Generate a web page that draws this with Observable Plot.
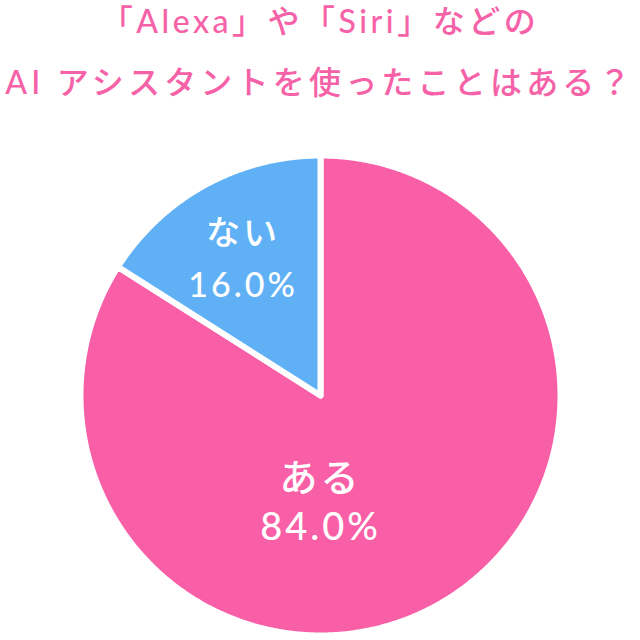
<!DOCTYPE html>
<html lang="ja">
<head>
<meta charset="utf-8">
<script src="https://cdn.jsdelivr.net/npm/d3@7"></script>
<script src="https://cdn.jsdelivr.net/npm/@observablehq/plot@0.6"></script>
<style>
  html, body { margin: 0; padding: 0; background: #fff; }
  #chart { position: relative; width: 640px; height: 640px; overflow: hidden; }
  .title {
    position: absolute; left: 0; width: 640px; text-align: center;
    font-family: Lato, "Noto Sans CJK JP", sans-serif; font-weight: 500;
    font-size: 32px; letter-spacing: 3.5px; color: #f662a8;
    height: 38px; line-height: 38px; white-space: nowrap;
  }
  #chart svg { position: absolute; left: 0; top: 0; }
  #chart svg text { letter-spacing: 3px; }
</style>
</head>
<body>
<div id="chart">
  <div class="title" style="top:2px">「Alexa」や「Siri」などの</div>
  <div class="title" style="top:63px; letter-spacing:4.2px">AI アシスタントを使ったことはある？</div>
</div>
<script>
// Survey answers and their shares (percent)
const answers = ["ある", "ない"];
const shares = [84.0, 16.0];
const colors = ["#f95fa7", "#60b0f6"];

// Slice geometry: start at 12 o'clock, run clockwise
const pie = d3.pie().sort(null).value(d => d.share)(
  answers.map((answer, i) => ({answer, share: shares[i]}))
);

// Turn each slice into a closed polygon in unit-circle coordinates
const polygons = pie.flatMap(s => {
  const pts = [{answer: s.data.answer, x: 0, y: 0}];
  const n = Math.max(2, Math.ceil((s.endAngle - s.startAngle) / (Math.PI / 360)));
  for (let k = 0; k <= n; ++k) {
    const a = s.startAngle + (s.endAngle - s.startAngle) * k / n;
    pts.push({answer: s.data.answer, x: Math.sin(a), y: Math.cos(a)});
  }
  pts.push({answer: s.data.answer, x: 0, y: 0});
  return pts;
});

// Label anchors: a majority slice gets its label near the bottom,
// smaller slices get it along their middle angle
const labels = pie.map(s => {
  const big = s.data.share > 50;
  const a = big ? Math.PI : (s.startAngle + s.endAngle) / 2;
  const r = big ? 0.433 : 0.67;
  return {
    big,
    text: s.data.answer + "\n" + s.data.share.toFixed(1) + "%",
    x: r * Math.sin(a),
    y: r * Math.cos(a)
  };
});

const chart = Plot.plot({
  width: 640,
  height: 640,
  marginLeft: 80,
  marginRight: 80,
  marginTop: 155,
  marginBottom: 5,
  x: {domain: [-1, 1], axis: null},
  y: {domain: [-1, 1], axis: null},
  color: {domain: answers, range: colors},
  style: {fontFamily: "Lato, 'Noto Sans CJK JP', sans-serif", background: "transparent"},
  marks: [
    Plot.line(polygons, {
      x: "x", y: "y", z: "answer", fill: "answer",
      stroke: "white", strokeWidth: 6, curve: "linear"
    }),
    // two-line labels: name over percentage
    Plot.text(labels, {
      filter: d => d.big,
      x: "x", y: "y", text: "text",
      fill: "white", fontSize: 38, fontWeight: 500, lineHeight: 49 / 38
    }),
    Plot.text(labels, {
      filter: d => !d.big,
      x: "x", y: "y", text: "text",
      fill: "white", fontSize: 34, fontWeight: 500, lineHeight: 52 / 34
    })
  ]
});

document.getElementById("chart").appendChild(chart);
</script>
</body>
</html>
